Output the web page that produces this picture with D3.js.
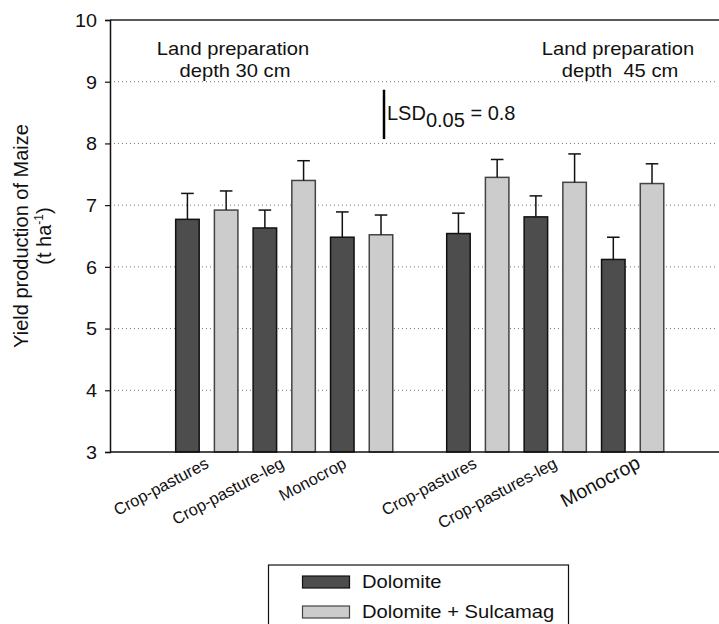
<!DOCTYPE html>
<html>
<head>
<meta charset="utf-8">
<script src="https://cdn.jsdelivr.net/npm/d3@7"></script>
<style>
  html, body { margin: 0; padding: 0; background: #fff; }
  svg { display: block; font-family: "Liberation Sans", Arial, sans-serif; }
  text { white-space: pre; fill: #111; }
</style>
</head>
<body>
<svg id="chart" width="719" height="624"></svg>
<script>
// ---- data ----
const treatments = ["Dolomite", "Dolomite + Sulcamag"];
const depthTitles = [["Land preparation", "depth 30 cm"], ["Land preparation", "depth  45 cm"]];
const systems30 = ["Crop-pastures", "Crop-pasture-leg", "Monocrop"];
const systems45 = ["Crop-pastures", "Crop-pastures-leg", "Monocrop"];
const dolomite30 = [6.77, 6.63, 6.48];
const sulcamag30 = [6.92, 7.40, 6.52];
const dolomite45 = [6.54, 6.81, 6.12];
const sulcamag45 = [7.45, 7.37, 7.35];
const dolomite30Err = [0.42, 0.29, 0.41];
const sulcamag30Err = [0.31, 0.32, 0.32];
const dolomite45Err = [0.33, 0.34, 0.36];
const sulcamag45Err = [0.29, 0.46, 0.32];
const yTicks = [3, 4, 5, 6, 7, 8, 9, 10];
const gridValues = [4, 5, 6, 7, 8, 9];
const lsdValue = 0.8;
const lsdBase = 8.07;

// ---- layout ----
const plot = { left: 110, right: 719, top: 20, bottom: 452 };
const colors = ["#4d4d4d", "#cccccc"];
const labelNudge = [3, 1, -14, 0, 3, 9];

const svg = d3.select("#chart");

// one slot per bar, an empty slot between the two depth groups
const x = d3.scaleLinear().domain([-1, 14.73]).range([plot.left, plot.right]);
const y = d3.scaleLinear().domain([3, 10]).range([plot.bottom, plot.top]);
const barW = x(0.607) - x(0);

const groups = [
  { systems: systems30, vals: [dolomite30, sulcamag30], errs: [dolomite30Err, sulcamag30Err] },
  { systems: systems45, vals: [dolomite45, sulcamag45], errs: [dolomite45Err, sulcamag45Err] }
];

const bars = [];
const labels = [];
groups.forEach((g, gi) => {
  g.systems.forEach((s, si) => {
    const base = 1 + gi * 7 + si * 2;
    labels.push({ text: s, slot: base + 0.5, big: gi === 1 && si === 2 });
    treatments.forEach((t, ti) => {
      bars.push({ slot: base + ti, value: g.vals[ti][si], err: g.errs[ti][si], t: ti });
    });
  });
});

// horizontal dotted grid
svg.append("g").selectAll("line").data(gridValues).join("line")
  .attr("x1", plot.left).attr("x2", plot.right - 4)
  .attr("y1", d => y(d)).attr("y2", d => y(d))
  .attr("stroke", "#777").attr("stroke-width", 1)
  .attr("stroke-dasharray", "1,3");

// frame: grey top rule, black left and bottom axes
svg.append("line")
  .attr("x1", plot.left).attr("x2", plot.right).attr("y1", plot.top).attr("y2", plot.top)
  .attr("stroke", "#5a5a5a").attr("stroke-width", 2);

// y axis
const yAxis = d3.axisLeft(y).tickValues(yTicks).tickSize(5).tickFormat(d3.format("d"));
const yg = svg.append("g").attr("transform", `translate(${plot.left},0)`).call(yAxis);
yg.select(".domain").attr("stroke", "#111").attr("stroke-width", 1.5);
yg.selectAll(".tick line").attr("stroke", "#111").attr("stroke-width", 1.2);
yg.selectAll(".tick text").remove();
yg.selectAll(".tick").append("text")
  .attr("text-anchor", "end")
  .attr("font-size", 17.5)
  .attr("transform", "translate(-13,6.3) scale(1.13,1)")
  .text(d => d);

// bars
svg.append("g").selectAll("rect").data(bars).join("rect")
  .attr("x", d => x(d.slot) - barW / 2)
  .attr("width", barW)
  .attr("y", d => y(d.value))
  .attr("height", d => y(3) - y(d.value))
  .attr("fill", d => colors[d.t])
  .attr("stroke", d => d.t === 0 ? "#111" : "#444")
  .attr("stroke-width", 1.5);

// error bars
const eb = svg.append("g").attr("stroke", "#111").attr("stroke-width", 1.5);
eb.selectAll("line.v").data(bars).join("line").attr("class", "v")
  .attr("x1", d => x(d.slot)).attr("x2", d => x(d.slot))
  .attr("y1", d => y(d.value)).attr("y2", d => y(d.value + d.err));
eb.selectAll("line.c").data(bars).join("line").attr("class", "c")
  .attr("x1", d => x(d.slot) - 6.3).attr("x2", d => x(d.slot) + 6.3)
  .attr("y1", d => y(d.value + d.err)).attr("y2", d => y(d.value + d.err));

// bottom axis line
svg.append("line")
  .attr("x1", plot.left).attr("x2", plot.right).attr("y1", plot.bottom).attr("y2", plot.bottom)
  .attr("stroke", "#111").attr("stroke-width", 1.5);

// category labels, slanted under each pair
svg.append("g").selectAll("text").data(labels).join("text")
  .attr("text-anchor", "end")
  .attr("font-size", d => d.big ? 19.5 : 16.5)
  .attr("transform", (d, i) => `translate(${x(d.slot) + labelNudge[i]},467) rotate(-28)`)
  .text(d => d.text);

// depth titles
const depthCenters = [233, 618];
depthTitles.forEach((lines, gi) => {
  lines.forEach((line, li) => {
    svg.append("text")
      .attr("text-anchor", "middle")
      .attr("font-size", 18)
      .attr("transform", `translate(${depthCenters[gi] + (li ? 2 : 0)},${55 + li * 22}) scale(1.12,1)`)
      .text(line);
  });
});

// LSD bar and label
const lsdX = 384;
svg.append("line")
  .attr("x1", lsdX).attr("x2", lsdX)
  .attr("y1", y(lsdBase)).attr("y2", y(lsdBase + lsdValue))
  .attr("stroke", "#000").attr("stroke-width", 2.5);
const lsd = svg.append("text").attr("x", lsdX + 3).attr("y", 120).attr("font-size", 20);
lsd.append("tspan").text("LSD");
lsd.append("tspan").attr("dy", 6.5).text("0.05");
lsd.append("tspan").attr("dy", -6.5).text(" = " + lsdValue.toFixed(1));

// y axis title
const yt = svg.append("g").attr("transform", "translate(0,236) rotate(-90)");
yt.append("text").attr("text-anchor", "middle").attr("y", 28).attr("font-size", 20)
  .text("Yield production of Maize");
const unit = yt.append("text").attr("text-anchor", "middle").attr("y", 51).attr("font-size", 20);
unit.append("tspan").text("(t ha");
unit.append("tspan").attr("font-size", 12).attr("dy", -8).text("-1");
unit.append("tspan").attr("dy", 8).text(")");

// legend
const lg = svg.append("g");
lg.append("rect").attr("x", 268.5).attr("y", 565).attr("width", 300).attr("height", 80)
  .attr("fill", "#fff").attr("stroke", "#111").attr("stroke-width", 1.2);
treatments.forEach((t, i) => {
  lg.append("rect").attr("x", 302.5).attr("y", 576 + i * 30).attr("width", 47).attr("height", 12)
    .attr("fill", colors[i]).attr("stroke", i === 0 ? "#111" : "#444").attr("stroke-width", 1.2);
  lg.append("text").attr("font-size", 18.5)
    .attr("transform", `translate(362,${588 + i * 30}) scale(1.09,1)`)
    .text(t);
});
</script>
</body>
</html>
